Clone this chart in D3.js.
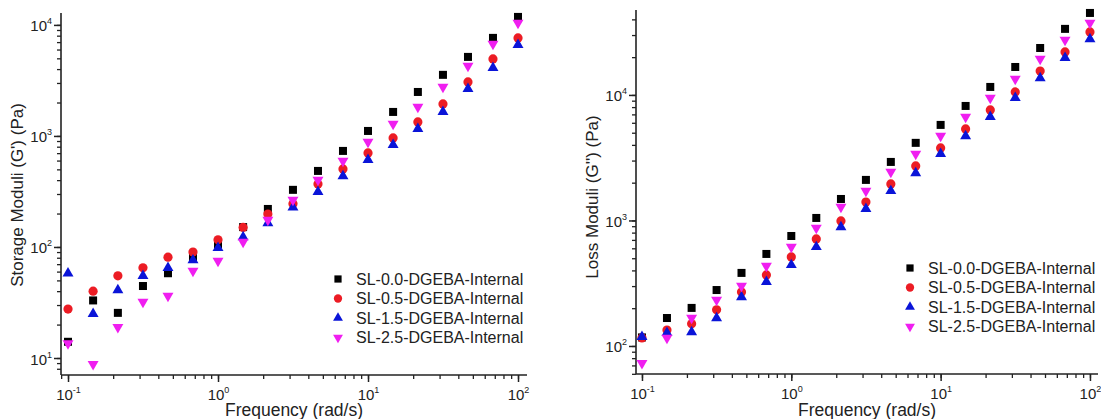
<!DOCTYPE html>
<html><head><meta charset="utf-8">
<script src="https://cdn.jsdelivr.net/npm/d3@7"></script>
<style>body{margin:0;background:#fff}svg{display:block}text{font-family:"Liberation Sans",Arial,sans-serif}</style>
</head><body><svg id="c" width="1101" height="419"></svg>
<script>
const freq = [0.1,0.147,0.215,0.316,0.464,0.681,1,1.47,2.15,3.16,4.64,6.81,10,14.7,21.5,31.6,46.4,68.1,100];
const seriesNames = ["SL-0.0-DGEBA-Internal","SL-0.5-DGEBA-Internal","SL-1.5-DGEBA-Internal","SL-2.5-DGEBA-Internal"];
// Storage modulus G' (Pa)
const storage00 = [14,33,25.5,44.5,58,80,106,151,220,327,484,733,1109,1645,2489,3550,5150,7640,11800];
const storage05 = [27.6,40,55,65,81,90,116,150,198,245,370,505,703,960,1336,1941,3063,4940,7640];
const storage15 = [58,25,41,55,65,76,98,123,164,228,313,436,608,830,1156,1645,2650,4100,6600];
const storage25 = [13.5,8.8,19,32,36.2,61,75,111,175,265,402,595,883,1283,1824,2762,4276,6745,10420];
// Loss modulus G'' (Pa)
const loss00 = [117,167,201,279,382,541,752,1047,1483,2104,2926,4152,5770,8170,11580,16700,23660,33600,45000];
const loss05 = [116,134,150,194,269,368,512,713,991,1402,1954,2718,3784,5357,7590,10560,15520,22000,31760];
const loss15 = [118,127,129,167,245,324,442,615,887,1236,1718,2389,3388,4710,6680,9465,13650,19720,27900];
const loss25 = [73,116,167,233,301,434,615,871,1282,1718,2432,3388,4710,6680,9465,13400,19360,27400,37500];
const xTicks = [0.1,1,10,100];
const yTicksStorage = [10,100,1000,10000];
const yTicksLoss = [100,1000,10000];

const colors = ["#000000","#ec1c24","#0a14d8","#f01ef0"];
const shapes = ["square","circle","up","down"];

const svg = d3.select("#c");

function sym(g, shape, color, k){
  k = k || 1;
  let p;
  if(shape==="square") p = g.append("rect").attr("x",-4*k).attr("y",-4*k).attr("width",8*k).attr("height",8*k);
  else if(shape==="circle") p = g.append("circle").attr("r",4.6*k);
  else {
    p = g.append("path").attr("d", d3.symbol(d3.symbolTriangle, 52*k*k)());
    if(shape==="down") p.attr("transform","rotate(180)");
  }
  p.attr("fill",color);
}

function supLabel(sel, v){
  const e = Math.round(Math.log10(v));
  sel.text(null);
  sel.append("tspan").text("10");
  sel.append("tspan").attr("dy","-7").attr("font-size","9px").text(String(e));
}

function panel(cfg){
  const x = d3.scaleLog().domain(cfg.xd).range(cfg.xr);
  const y = d3.scaleLog().domain(cfg.yd).range(cfg.yr);
  const g = svg.append("g");
  const xMinor = [], yMinor = [];
  for(let e=-2;e<=5;e++) for(let m=1;m<=9;m++){
    const v = m*Math.pow(10,e);
    if(v>=cfg.xd[0] && v<=cfg.xd[1]) xMinor.push(v);
    if(v>=cfg.yd[0] && v<=cfg.yd[1]) yMinor.push(v);
  }
  const ax = g.append("g").attr("transform",`translate(0,${cfg.yr[0]})`)
    .call(d3.axisBottom(x).tickValues(xMinor).tickSize(4).tickFormat(""));
  ax.select(".domain").remove();
  ax.selectAll("line").attr("stroke","#222").attr("stroke-width",1.3);
  const ax2 = g.append("g").attr("transform",`translate(0,${cfg.yr[0]})`)
    .call(d3.axisBottom(x).tickValues(xTicks).tickSize(7).tickFormat(""));
  ax2.select(".domain").attr("stroke","#222").attr("stroke-width",1.6).attr("d",`M${cfg.xr[0]},0H${cfg.xr[1]}`);
  ax2.selectAll("line").attr("stroke","#222").attr("stroke-width",1.5);
  ax2.selectAll(".tick text").remove();
  ax2.selectAll(".tick").append("text").attr("y",25).attr("fill","#222").attr("font-size","15px").attr("text-anchor","middle")
    .each(function(d){ supLabel(d3.select(this), d); });

  const ay = g.append("g").attr("transform",`translate(${cfg.xr[0]},0)`)
    .call(d3.axisLeft(y).tickValues(yMinor).tickSize(4).tickFormat(""));
  ay.select(".domain").remove();
  ay.selectAll("line").attr("stroke","#222").attr("stroke-width",1.3);
  const ay2 = g.append("g").attr("transform",`translate(${cfg.xr[0]},0)`)
    .call(d3.axisLeft(y).tickValues(cfg.yTicks).tickSize(7).tickFormat(""));
  ay2.select(".domain").attr("stroke","#222").attr("stroke-width",1.6).attr("d",`M0,${cfg.yr[0]}V${cfg.yr[1]}`);
  ay2.selectAll("line").attr("stroke","#222").attr("stroke-width",1.5);
  ay2.selectAll(".tick text").remove();
  ay2.selectAll(".tick").append("text").attr("x",-9).attr("y",6).attr("fill","#222").attr("font-size","15px").attr("text-anchor","end")
    .each(function(d){ supLabel(d3.select(this), d); });

  g.append("text").attr("x",(cfg.xr[0]+cfg.xr[1])/2).attr("y",416).attr("text-anchor","middle")
    .attr("font-size","17.5px").attr("fill","#222").text("Frequency (rad/s)");
  g.append("text").attr("transform",`translate(${cfg.ytx},${cfg.yty}) rotate(-90)`).attr("text-anchor","middle")
    .attr("font-size","17px").attr("fill","#222").text(cfg.ytitle);

  cfg.series.forEach((vals,i)=>{
    vals.forEach((v,j)=>{
      const s = g.append("g").attr("transform",`translate(${x(freq[j])},${y(v)})`);
      sym(s, shapes[i], colors[i]);
    });
  });
  seriesNames.forEach((n,i)=>{
    const ly = cfg.ly + i*19.5;
    const s = g.append("g").attr("transform",`translate(${cfg.lx},${ly})`);
    sym(s, shapes[i], colors[i], 0.9);
    g.append("text").attr("x",cfg.lx+18).attr("y",ly+5.5).attr("font-size","16px").attr("fill","#222").text(n);
  });
}

panel({xd:[0.0898,114.8], xr:[61,527], yd:[7.03,12800], yr:[375,13], yTicks:yTicksStorage,
  ytitle:"Storage Moduli (G') (Pa)", ytx:23, yty:195, series:[storage00,storage05,storage15,storage25], lx:338, ly:279});
panel({xd:[0.0912,113.2], xr:[636,1098], yd:[59.8,47500], yr:[374,10], yTicks:yTicksLoss,
  ytitle:"Loss Moduli (G'') (Pa)", ytx:598, yty:197, series:[loss00,loss05,loss15,loss25], lx:910, ly:268});
</script></body></html>
